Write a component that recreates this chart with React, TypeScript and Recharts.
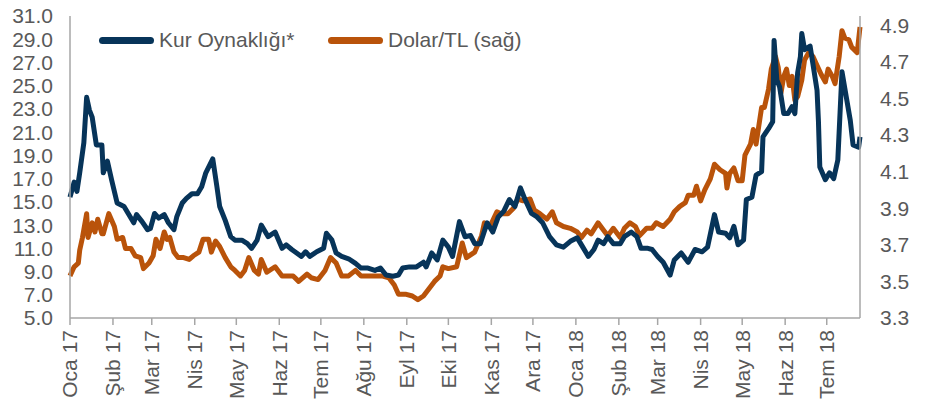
import React from 'react';
import { LineChart, Line, XAxis, YAxis } from 'recharts';

// x = days since 1 Jan 2017
const monthTicks = [0, 31, 59, 90, 120, 151, 181, 212, 243, 273, 304, 334, 365, 396, 424, 455, 485, 516, 546];
const monthLabels = [
  'Oca 17', 'Şub 17', 'Mar 17', 'Nis 17', 'May 17', 'Haz 17', 'Tem 17', 'Ağu 17', 'Eyl 17', 'Eki 17',
  'Kas 17', 'Ara 17', 'Oca 18', 'Şub 18', 'Mar 18', 'Nis 18', 'May 18', 'Haz 18', 'Tem 18',
];
const leftTicks = [5, 7, 9, 11, 13, 15, 17, 19, 21, 23, 25, 27, 29, 31];
const rightTicks = [3.3, 3.5, 3.7, 3.9, 4.1, 4.3, 4.5, 4.7, 4.9];

// [day, value]
const kurOynakligi: [number, number][] = [
  [0, 15.4], [3, 16.7], [5, 15.9], [7, 17.5], [10, 20.1], [12, 24.0], [14, 22.9], [16, 22.3], [19, 19.9],
  [23, 19.9], [24, 17.5], [27, 18.5], [30, 16.9], [34, 14.9], [39, 14.6], [42, 14.0], [46, 13.2], [48, 13.9],
  [52, 13.3], [56, 12.6], [58, 12.7], [61, 14.0], [64, 13.6], [68, 13.9], [71, 13.2], [75, 12.6], [77, 13.7],
  [81, 14.9], [84, 15.3], [88, 15.7], [92, 15.7], [95, 16.3], [98, 17.5], [103, 18.7], [106, 16.3], [108, 14.6],
  [112, 13.4], [116, 12.0], [119, 11.7], [124, 11.7], [128, 11.4], [131, 11.0], [135, 11.7], [138, 13.0],
  [143, 12.0], [148, 12.4], [153, 11.0], [156, 11.3], [160, 10.9], [167, 10.3], [170, 10.7], [173, 10.3],
  [178, 10.7], [183, 11.0], [185, 12.3], [189, 11.7], [192, 10.6], [196, 10.3], [201, 10.1], [206, 9.7],
  [210, 9.3], [215, 9.3], [220, 9.1], [224, 9.3], [228, 8.7], [233, 8.6], [237, 8.7], [240, 9.3], [245, 9.4],
  [250, 9.4], [255, 9.8], [257, 9.4], [261, 10.6], [265, 10.0], [269, 11.7], [273, 11.1], [276, 10.3],
  [281, 13.3], [285, 12.0], [289, 12.1], [292, 11.4], [296, 11.4], [301, 13.2], [305, 12.4], [309, 13.7],
  [313, 14.2], [317, 15.2], [321, 14.6], [325, 16.2], [328, 15.3], [333, 14.0], [337, 13.7], [341, 13.2],
  [346, 12.0], [351, 11.3], [356, 11.1], [361, 11.6], [366, 11.9], [370, 11.1], [374, 10.3], [378, 10.9],
  [381, 11.7], [385, 11.4], [388, 12.0], [392, 11.4], [397, 11.4], [400, 12.0], [405, 12.4], [409, 12.0],
  [412, 11.0], [417, 11.0], [420, 10.9], [424, 10.3], [428, 9.8], [433, 8.7], [436, 10.0], [441, 10.6],
  [446, 9.8], [451, 10.9], [456, 10.7], [460, 11.1], [465, 13.9], [468, 12.4], [473, 12.3], [476, 11.9],
  [479, 12.9], [482, 11.3], [486, 11.7], [488, 15.2], [492, 15.4], [495, 17.3], [499, 17.6], [500, 20.6],
  [504, 21.3], [507, 21.9], [508, 28.9], [510, 25.5], [512, 24.9], [515, 22.6], [518, 22.6], [521, 23.2],
  [523, 22.6], [525, 26.1], [527, 27.5], [528, 29.5], [530, 28.1], [534, 28.4], [536, 26.9], [539, 24.6],
  [540, 22.0], [541, 18.0], [545, 16.9], [548, 17.5], [551, 17.0], [554, 18.6], [557, 26.2], [560, 24.1],
  [563, 22.0], [565, 19.9], [569, 19.7], [570, 20.6],
];

const dolarTl: [number, number][] = [
  [0, 3.53], [3, 3.58], [6, 3.60], [7, 3.67], [9, 3.74], [12, 3.87], [13, 3.74], [16, 3.82], [18, 3.77],
  [20, 3.84], [23, 3.76], [24, 3.76], [28, 3.87], [32, 3.80], [34, 3.73], [38, 3.74], [40, 3.68], [44, 3.68],
  [47, 3.64], [51, 3.63], [53, 3.57], [57, 3.60], [60, 3.64], [62, 3.73], [65, 3.68], [68, 3.77], [70, 3.73],
  [72, 3.74], [75, 3.66], [78, 3.63], [82, 3.63], [86, 3.62], [89, 3.64], [93, 3.66], [96, 3.73], [100, 3.73],
  [102, 3.66], [105, 3.72], [108, 3.69], [112, 3.63], [116, 3.58], [119, 3.56], [123, 3.53], [126, 3.56],
  [129, 3.63], [133, 3.56], [136, 3.54], [138, 3.62], [142, 3.55], [148, 3.58], [153, 3.53], [158, 3.53],
  [161, 3.53], [165, 3.50], [171, 3.54], [174, 3.52], [179, 3.51], [184, 3.56], [188, 3.63], [192, 3.60],
  [196, 3.53], [201, 3.53], [206, 3.56], [210, 3.53], [215, 3.53], [220, 3.53], [225, 3.53], [230, 3.52],
  [234, 3.48], [237, 3.43], [242, 3.43], [247, 3.42], [251, 3.40], [255, 3.42], [259, 3.46], [263, 3.50],
  [267, 3.53], [269, 3.58], [273, 3.57], [279, 3.58], [283, 3.71], [286, 3.63], [292, 3.66], [297, 3.75],
  [299, 3.82], [303, 3.80], [308, 3.88], [311, 3.87], [316, 3.87], [320, 3.90], [323, 3.95], [327, 3.94],
  [332, 3.95], [335, 3.89], [339, 3.87], [344, 3.84], [348, 3.88], [351, 3.82], [356, 3.80], [361, 3.79],
  [366, 3.77], [369, 3.74], [373, 3.78], [376, 3.76], [381, 3.82], [385, 3.78], [388, 3.75], [392, 3.79],
  [397, 3.74], [400, 3.79], [404, 3.82], [408, 3.80], [411, 3.75], [416, 3.79], [420, 3.79], [423, 3.82],
  [428, 3.80], [433, 3.84], [436, 3.88], [440, 3.91], [444, 3.93], [446, 3.97], [450, 3.97], [452, 4.02],
  [455, 3.94], [458, 4.00], [462, 4.06], [465, 4.14], [469, 4.11], [473, 4.09], [474, 4.01], [476, 4.09],
  [479, 4.12], [482, 4.05], [485, 4.05], [487, 4.19], [491, 4.25], [493, 4.33], [495, 4.25], [499, 4.45],
  [501, 4.45], [504, 4.55], [506, 4.66], [509, 4.73], [511, 4.67], [513, 4.53], [515, 4.62], [517, 4.66],
  [519, 4.57], [521, 4.62], [523, 4.49], [525, 4.51], [528, 4.60], [530, 4.71], [533, 4.75], [536, 4.73],
  [539, 4.68], [542, 4.63], [545, 4.59], [547, 4.66], [550, 4.62], [552, 4.58], [555, 4.73], [557, 4.87],
  [559, 4.83], [562, 4.82], [564, 4.78], [568, 4.75], [570, 4.89],
];

const BLUE = '#073459';
const ORANGE = '#b9530a';
const GREY_TEXT = '#595959';
const AXIS = '#a6a6a6';
const FONT = '"Liberation Sans", Arial, sans-serif';

const kurData = kurOynakligi.map(([day, value]) => ({ day, kur: value }));
const dolarData = dolarTl.map(([day, value]) => ({ day, dolar: value }));

const MonthTick = (props: any) => {
  const { x, y, payload } = props;
  const label = monthLabels[monthTicks.indexOf(payload.value)];
  return (
    <text
      x={x}
      y={y}
      transform={`rotate(-90, ${x}, ${y})`}
      textAnchor="end"
      dy="0.35em"
      fill={GREY_TEXT}
      fontSize={21}
      fontFamily={FONT}
    >
      {label}
    </text>
  );
};

const LegendItem = ({ color, label, left }: { color: string; label: string; left: number }) => (
  <div style={{ position: 'absolute', left, top: 29, display: 'flex', alignItems: 'center', height: 22 }}>
    <div style={{ width: 55, height: 7, borderRadius: 4, background: color, marginRight: 5 }} />
    <span style={{ fontSize: 21, color: GREY_TEXT, fontFamily: FONT, whiteSpace: 'nowrap' }}>{label}</span>
  </div>
);

export default function App() {
  return (
    <div style={{ position: 'absolute', left: 0, top: 0, width: 928, height: 410, background: '#fff' }}>
      <LineChart width={928} height={410} margin={{ top: 16, right: 0, bottom: 0, left: 0 }}>
        <XAxis
          dataKey="day"
          type="number"
          domain={[0, 570]}
          ticks={monthTicks}
          interval={0}
          height={92}
          stroke={AXIS}
          strokeWidth={1.5}
          tickSize={7}
          tickMargin={5}
          tick={<MonthTick />}
          allowDuplicatedCategory={false}
        />
        <YAxis
          yAxisId="left"
          orientation="left"
          width={70}
          domain={[5, 31]}
          ticks={leftTicks}
          interval={0}
          tickFormatter={(v: number) => v.toFixed(1)}
          stroke={AXIS}
          strokeWidth={1.5}
          tickLine={false}
          tickSize={0}
          tickMargin={17}
          tick={{ fill: GREY_TEXT, fontSize: 21, fontFamily: FONT }}
        />
        <YAxis
          yAxisId="right"
          orientation="right"
          width={68}
          domain={[3.3, 4.95]}
          ticks={rightTicks}
          interval={0}
          tickFormatter={(v: number) => v.toFixed(1)}
          stroke={AXIS}
          strokeWidth={1.5}
          tickLine={false}
          tickSize={0}
          tickMargin={20}
          tick={{ fill: GREY_TEXT, fontSize: 21, fontFamily: FONT }}
        />
        <Line
          yAxisId="right"
          data={dolarData}
          dataKey="dolar"
          type="linear"
          stroke={ORANGE}
          strokeWidth={5}
          strokeLinejoin="round"
          dot={false}
          isAnimationActive={false}
        />
        <Line
          yAxisId="left"
          data={kurData}
          dataKey="kur"
          type="linear"
          stroke={BLUE}
          strokeWidth={5}
          strokeLinejoin="round"
          dot={false}
          isAnimationActive={false}
        />
      </LineChart>
      <LegendItem color={BLUE} label="Kur Oynaklığı*" left={99} />
      <LegendItem color={ORANGE} label="Dolar/TL (sağ)" left={328} />
    </div>
  );
}
